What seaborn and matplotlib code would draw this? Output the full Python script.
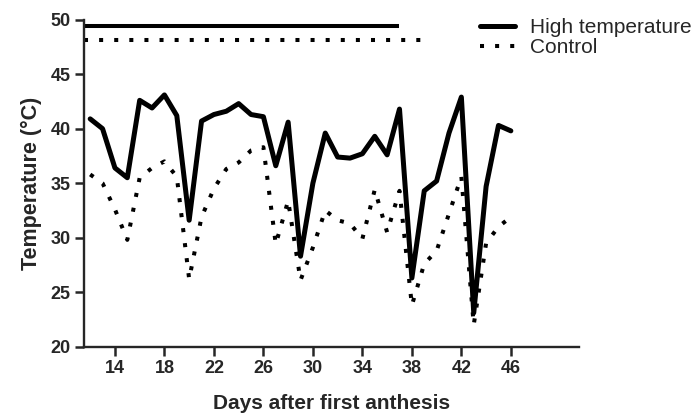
import matplotlib
matplotlib.use("Agg")
import matplotlib.pyplot as plt
import seaborn as sns

# Daily temperatures
days = list(range(12, 47))
high_temp = [40.9, 40.0, 36.4, 35.5, 42.6, 41.9, 43.1, 41.2, 31.6, 40.7,
             41.3, 41.6, 42.3, 41.3, 41.1, 36.6, 40.6, 28.3, 35.0, 39.6,
             37.4, 37.3, 37.7, 39.3, 37.6, 41.8, 26.3, 34.3, 35.2, 39.6,
             42.9, 23.1, 34.7, 40.3, 39.8]
control = [35.8, 35.0, 32.6, 29.8, 35.5, 36.4, 37.0, 35.6, 26.2, 31.9,
           34.5, 36.3, 36.9, 38.0, 38.3, 29.4, 33.4, 26.1, 29.1, 32.5,
           31.6, 31.3, 29.9, 34.4, 30.5, 34.3, 23.8, 27.6, 28.8, 32.2,
           35.6, 22.0, 29.5, 31.0, 31.9]

# Treatment period bars drawn at the top of the plot
bar_high_x = [11.5, 37.0]
bar_high_y = [49.4, 49.4]
bar_ctrl_x = [11.5, 39.5]
bar_ctrl_y = [48.1, 48.1]

x_ticks = [14, 18, 22, 26, 30, 34, 38, 42, 46]
y_ticks = [20, 25, 30, 35, 40, 45, 50]

sns.set_style("ticks")
plt.rcParams['font.family'] = ['Liberation Sans', 'DejaVu Sans']

dot_style = (0, (1, 2.75))

fig = plt.figure(figsize=(7, 4.18), dpi=100)
ax = fig.add_axes([0.12, 0.1706, 0.707, 0.7823])

sns.lineplot(x=days, y=high_temp, color="black", lw=3.6, ax=ax,
             label="High temperature")
sns.lineplot(x=days, y=control, color="black", lw=2.9, ax=ax,
             linestyle=dot_style, label="Control")
for line in ax.get_lines():
    line.set_dash_capstyle("butt")

ax.plot(bar_high_x, bar_high_y, color="black", lw=2.9, solid_capstyle="butt")
ax.plot(bar_ctrl_x, bar_ctrl_y, color="black", lw=2.9, linestyle=dot_style,
        dash_capstyle="butt")

ax.set_xlim(11.5, 51.5)
ax.set_ylim(20, 50)
ax.set_xticks(x_ticks)
ax.set_yticks(y_ticks)

for side in ["top", "right"]:
    ax.spines[side].set_visible(False)
for side in ["left", "bottom"]:
    ax.spines[side].set_linewidth(1.7)
ax.tick_params(direction="out", length=6.5, width=1.8, labelsize=13, pad=3)
plt.setp(ax.get_xticklabels(), fontweight="bold")
plt.setp(ax.get_yticklabels(), fontweight="bold")

ax.set_xlabel("Days after first anthesis", fontsize=15, fontweight="bold",
              labelpad=12)
ax.set_ylabel("Temperature (°C)", fontsize=15.5, fontweight="bold",
              labelpad=6)

handles, labels = ax.get_legend_handles_labels()
leg = ax.legend(handles[:2], labels[:2], loc="upper left",
                bbox_to_anchor=(480 / 700, 1 - 18 / 418),
                bbox_transform=fig.transFigure, frameon=False,
                fontsize=15, handlelength=1.7, handletextpad=0.7,
                borderpad=0, borderaxespad=0, labelspacing=0.05)
for h in leg.get_lines():
    h.set_dash_capstyle("butt")

fig.savefig("out.png", dpi=100)
plt.close()
